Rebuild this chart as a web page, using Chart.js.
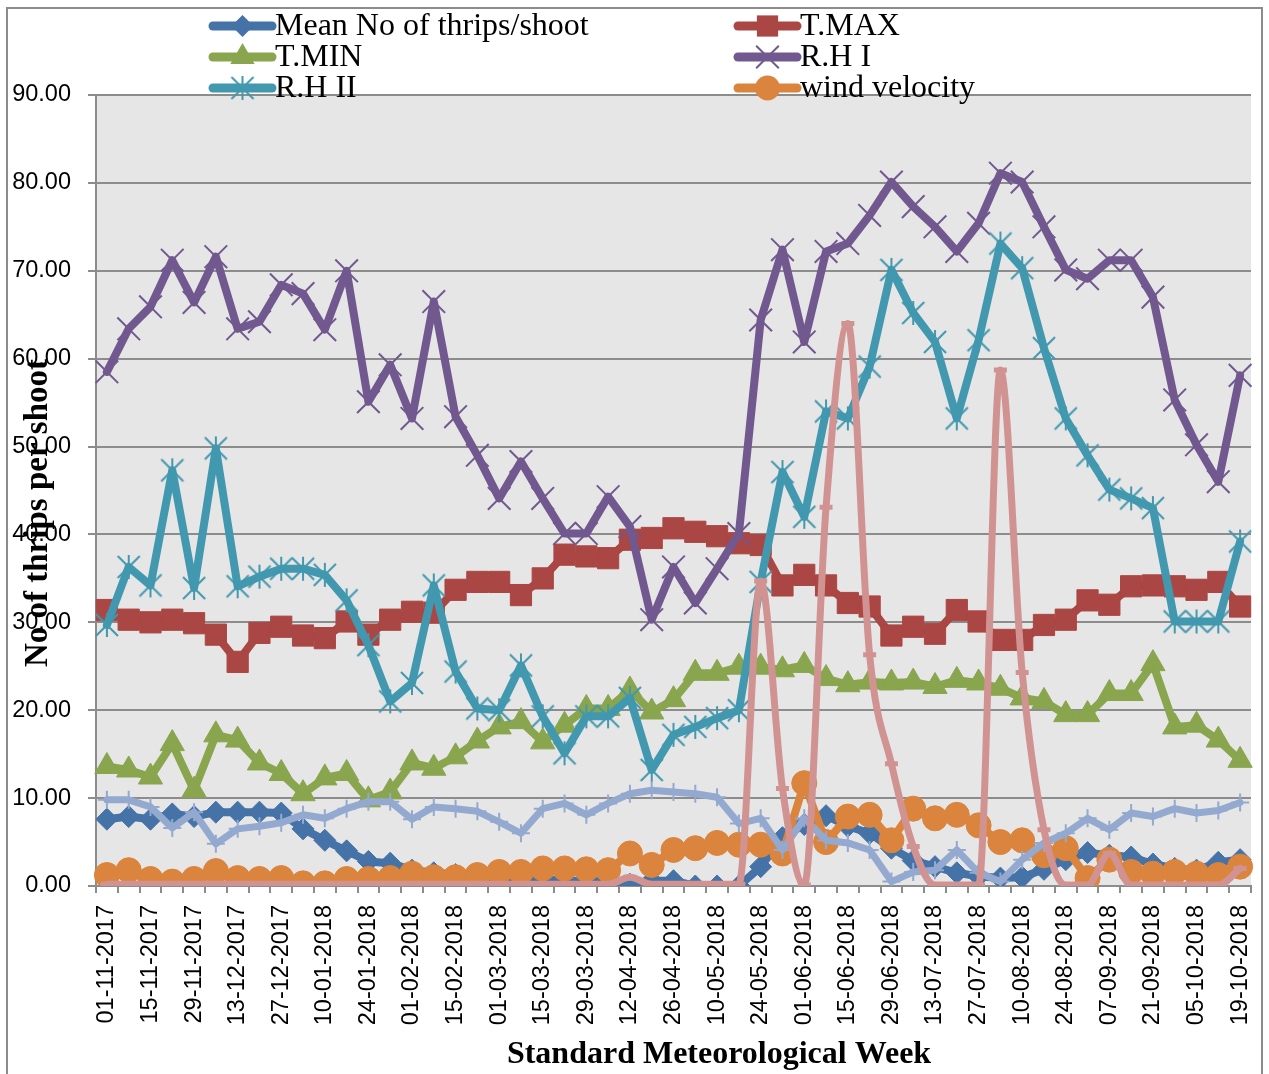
<!DOCTYPE html>
<html>
<head>
<meta charset="utf-8">
<script src="https://cdn.jsdelivr.net/npm/chart.js@4.4.1/dist/chart.umd.min.js"></script>
<style>
  html, body { margin: 0; padding: 0; background: #ffffff; }
  canvas { display: block; }
</style>
</head>
<body>
<canvas id="chart" width="1269" height="1074"></canvas>
<script>
// Standard meteorological weeks (every other one is labelled on the axis)
const weeks = [
  '01-11-2017','08-11-2017','15-11-2017','22-11-2017','29-11-2017','06-12-2017','13-12-2017','20-12-2017',
  '27-12-2017','03-01-2018','10-01-2018','17-01-2018','24-01-2018','28-01-2018','01-02-2018','08-02-2018',
  '15-02-2018','22-02-2018','01-03-2018','08-03-2018','15-03-2018','22-03-2018','29-03-2018','05-04-2018',
  '12-04-2018','19-04-2018','26-04-2018','03-05-2018','10-05-2018','17-05-2018','24-05-2018','28-05-2018',
  '01-06-2018','08-06-2018','15-06-2018','22-06-2018','29-06-2018','06-07-2018','13-07-2018','20-07-2018',
  '27-07-2018','03-08-2018','10-08-2018','17-08-2018','24-08-2018','31-08-2018','07-09-2018','14-09-2018',
  '21-09-2018','28-09-2018','05-10-2018','12-10-2018','19-10-2018'
];

const meanThrips = [
  7.6, 7.9, 7.6, 8.2, 7.9, 8.4, 8.4, 8.4, 8.3, 6.5, 5.2, 4.0, 2.8, 2.6, 1.8, 1.5,
  1.3, 1.0, 1.0, 0.8, 0.8, 0.6, 0.6, 0.5, 0.2, 0.6, 0.6, 0.0, 0.0, 0.0, 2.2, 5.5,
  7.0, 8.0, 6.8, 6.0, 4.3, 2.9, 2.2, 1.5, 1.1, 0.9, 1.0, 1.9, 3.0, 3.8, 3.5, 3.3,
  2.5, 2.0, 1.8, 2.7, 3.0
];

const tMax = [
  31.4, 30.3, 30.0, 30.3, 29.9, 28.6, 25.5, 28.8, 29.5, 28.5, 28.2, 30.1, 28.6, 30.3, 31.2, 31.1,
  33.7, 34.6, 34.6, 33.1, 35.0, 37.7, 37.5, 37.3, 39.4, 39.6, 40.7, 40.3, 39.8, 39.0, 38.8, 34.2,
  35.4, 34.2, 32.2, 31.8, 28.5, 29.5, 28.7, 31.4, 30.1, 28.0, 28.0, 29.7, 30.3, 32.5, 32.0, 34.1,
  34.2, 34.1, 33.7, 34.6, 31.8
];

const tMin = [
  13.6, 13.2, 12.4, 16.2, 10.9, 17.2, 16.6, 14.0, 12.8, 10.5, 12.3, 12.8, 9.8, 10.7, 14.0, 13.4,
  14.7, 16.5, 18.1, 18.7, 16.4, 18.3, 20.2, 20.2, 22.3, 19.8, 21.2, 24.2, 24.2, 24.9, 24.9, 24.6,
  25.1, 23.6, 22.9, 23.2, 23.1, 23.2, 22.7, 23.4, 23.1, 22.5, 21.4, 21.0, 19.5, 19.5, 21.9, 21.9,
  25.3, 18.1, 18.3, 16.6, 14.3
];

const rh1 = [
  58.5, 63.4, 65.9, 71.2, 66.4, 71.6, 63.4, 64.2, 68.4, 67.4, 63.3, 70.0, 55.1, 59.3, 53.2, 66.5,
  53.4, 49.0, 44.1, 48.3, 44.1, 40.1, 40.1, 44.3, 40.9, 30.3, 36.3, 32.2, 36.1, 40.1, 64.4, 72.4,
  61.9, 72.2, 73.1, 76.3, 80.1, 77.3, 75.0, 72.2, 75.4, 81.1, 80.1, 75.0, 70.1, 69.1, 71.2, 71.2,
  67.0, 55.3, 50.2, 46.0, 58.1
];

const rh2 = [
  29.7, 36.3, 34.2, 47.3, 33.9, 49.8, 34.1, 35.2, 36.1, 36.1, 35.4, 32.5, 27.4, 21.0, 23.1, 34.2,
  24.4, 20.2, 20.0, 25.1, 19.3, 15.1, 19.3, 19.3, 21.4, 13.2, 17.2, 18.1, 19.1, 20.0, 34.6, 47.1,
  42.0, 54.0, 53.2, 59.1, 70.1, 65.2, 61.9, 53.2, 62.1, 73.1, 70.3, 61.2, 53.2, 49.0, 45.1, 44.1,
  43.0, 30.1, 30.1, 30.1, 39.2
];

const windVelocity = [
  1.25, 1.8, 0.8, 0.5, 0.8, 1.7, 0.9, 0.8, 0.9, 0.3, 0.3, 0.8, 0.8, 0.9, 1.4, 1.0,
  1.0, 1.25, 1.6, 1.6, 2.0, 2.0, 1.9, 1.8, 3.7, 2.4, 4.1, 4.3, 4.9, 4.7, 4.7, 3.7,
  11.7, 5.0, 7.9, 8.1, 5.2, 8.8, 7.7, 8.1, 6.9, 5.0, 5.2, 3.5, 4.3, 0.9, 3.0, 1.6,
  1.4, 1.6, 1.4, 1.25, 2.2
];

const series7 = [
  9.8, 9.8, 9.0, 6.6, 8.4, 4.8, 6.5, 6.8, 7.2, 8.1, 7.7, 8.8, 9.6, 9.6, 7.6, 9.0,
  8.8, 8.5, 7.3, 6.0, 8.8, 9.4, 8.1, 9.4, 10.5, 10.9, 10.7, 10.5, 10.1, 7.1, 7.7, 4.1,
  7.7, 5.2, 4.9, 4.1, 0.5, 1.6, 1.8, 4.1, 1.5, 0.5, 3.0, 4.9, 6.0, 7.7, 6.4, 8.3,
  7.9, 8.8, 8.3, 8.6, 9.5
];

const series8 = [
  0.2, 0.2, 0.2, 0.2, 0.2, 0.2, 0.2, 0.2, 0.2, 0.2, 0.2, 0.2, 0.2, 0.2, 0.2, 0.2,
  0.2, 0.2, 0.2, 0.2, 0.2, 0.2, 0.2, 0.2, 1.0, 0.2, 0.2, 0.2, 0.2, 0.2, 34.7, 11.1,
  0.1, 43.1, 64.0, 26.3, 13.9, 4.5, 0.1, 0.1, 0.1, 58.7, 24.3, 6.4, 0.1, 0.1, 3.7, 0.1,
  0.1, 0.1, 0.1, 0.1, 2.0
];

const yMin = 0, yMax = 90, yStep = 10;
const xTitle = 'Standard Meteorological Week';
const yTitle = 'No of thrips per shoot';

const COLORS = {
  blue: '#4572A7', red: '#AA4643', green: '#89A54E', purple: '#71588F',
  teal: '#4198AF', orange: '#DB843D', lightBlue: '#93A9CF', pink: '#D19392'
};
const SANS = '"Liberation Sans", Arial, sans-serif';
const SERIF = '"Liberation Serif", "Times New Roman", serif';
const GRID = '#8c8c8c';

// asterisk marker: diagonal cross with a vertical bar
function makeStar(color, half, lw) {
  const size = Math.ceil(half * 2 + lw * 2);
  const c = document.createElement('canvas');
  c.width = size; c.height = size;
  const g = c.getContext('2d');
  const m = size / 2, d = half * 0.92;
  g.strokeStyle = color; g.lineWidth = lw;
  g.beginPath();
  g.moveTo(m - d, m - d); g.lineTo(m + d, m + d);
  g.moveTo(m + d, m - d); g.lineTo(m - d, m + d);
  g.moveTo(m, m - half); g.lineTo(m, m + half);
  g.stroke();
  return c;
}
const starMarker = makeStar(COLORS.teal, 12, 2);

function lineSeries(label, data, color, style, radius, extra) {
  return Object.assign({
    label: label,
    data: data,
    borderColor: color,
    backgroundColor: color,
    pointBackgroundColor: color,
    pointBorderColor: color,
    borderWidth: 8,
    borderJoinStyle: 'round',
    borderCapStyle: 'round',
    pointStyle: style,
    pointRadius: radius,
    pointBorderWidth: 1,
    tension: 0,
    fill: false
  }, extra || {});
}

const datasets = [
  lineSeries('Mean No of thrips/shoot', meanThrips, COLORS.blue, 'rectRot', 11, { order: 7 }),
  lineSeries('T.MAX', tMax, COLORS.red, 'rect', 15, { order: 6 }),
  lineSeries('T.MIN', tMin, COLORS.green, 'triangle', 14, { order: 5 }),
  lineSeries('R.H I', rh1, COLORS.purple, 'crossRot', 16, { order: 4, pointBorderWidth: 2 }),
  lineSeries('R.H II', rh2, COLORS.teal, starMarker, 12, { order: 3 }),
  lineSeries('wind velocity', windVelocity, COLORS.orange, 'circle', 12.5, { order: 2 }),
  lineSeries('', series7, COLORS.lightBlue, 'cross', 9, { order: 1, borderWidth: 7, pointBorderWidth: 2 }),
  lineSeries('', series8, COLORS.pink, 'line', 6.5, { order: 0, borderWidth: 7, pointBorderWidth: 5, cubicInterpolationMode: 'monotone' })
];

// legend layout: two columns, three rows
const legendItems = [
  { ds: 0, col: 0, row: 0 }, { ds: 1, col: 1, row: 0 },
  { ds: 2, col: 0, row: 1 }, { ds: 3, col: 1, row: 1 },
  { ds: 4, col: 0, row: 2 }, { ds: 5, col: 1, row: 2 }
];
const legendCols = [{ x0: 213, x1: 272, text: 275 }, { x0: 738, x1: 797, text: 800 }];
const legendRows = [26, 57, 88];

function drawMarker(ctx, style, x, y, r, color, lw) {
  ctx.save();
  ctx.fillStyle = color; ctx.strokeStyle = color; ctx.lineWidth = lw;
  ctx.beginPath();
  if (style === 'rectRot') {
    ctx.moveTo(x - r, y); ctx.lineTo(x, y - r); ctx.lineTo(x + r, y); ctx.lineTo(x, y + r);
    ctx.closePath(); ctx.fill();
  } else if (style === 'rect') {
    const s = r * Math.SQRT1_2;
    ctx.rect(x - s, y - s, 2 * s, 2 * s); ctx.fill();
  } else if (style === 'triangle') {
    ctx.moveTo(x, y - r); ctx.lineTo(x + r * 0.866, y + r * 0.5); ctx.lineTo(x - r * 0.866, y + r * 0.5);
    ctx.closePath(); ctx.fill();
  } else if (style === 'crossRot') {
    const d = r * Math.SQRT1_2;
    ctx.moveTo(x - d, y - d); ctx.lineTo(x + d, y + d);
    ctx.moveTo(x + d, y - d); ctx.lineTo(x - d, y + d);
    ctx.stroke();
  } else if (style === 'circle') {
    ctx.arc(x, y, r, 0, Math.PI * 2); ctx.fill();
  } else if (style && style.width) {
    ctx.drawImage(style, x - style.width / 2, y - style.height / 2);
  }
  ctx.restore();
}

const chartDecor = {
  id: 'chartDecor',
  beforeDraw(chart) {
    const { ctx, chartArea: a } = chart;
    ctx.save();
    ctx.fillStyle = '#E6E6E6';
    ctx.fillRect(a.left, a.top, a.right - a.left, a.bottom - a.top);
    ctx.restore();
  },
  afterDraw(chart) {
    const ctx = chart.ctx;
    ctx.save();
    // outer frame
    ctx.strokeStyle = GRID; ctx.lineWidth = 2;
    ctx.strokeRect(7, 8, 1255, 1080);

    // axis titles
    ctx.fillStyle = '#000';
    ctx.font = 'bold 32px ' + SERIF;
    ctx.textAlign = 'center'; ctx.textBaseline = 'middle';
    ctx.fillText(xTitle, 719, 1055);
    ctx.save();
    ctx.translate(38, 513);
    ctx.rotate(-Math.PI / 2);
    ctx.font = 'bold 33px ' + SERIF;
    ctx.fillText(yTitle, 0, 0);
    ctx.restore();

    // legend
    ctx.font = '32px ' + SERIF;
    ctx.textAlign = 'left'; ctx.textBaseline = 'middle';
    legendItems.forEach(it => {
      const ds = chart.data.datasets[it.ds];
      const c = legendCols[it.col], y = legendRows[it.row];
      ctx.save();
      ctx.strokeStyle = ds.borderColor; ctx.lineWidth = 9; ctx.lineCap = 'round';
      ctx.beginPath(); ctx.moveTo(c.x0, y); ctx.lineTo(c.x1, y); ctx.stroke();
      ctx.restore();
      drawMarker(ctx, ds.pointStyle, (c.x0 + c.x1) / 2, y, ds.pointRadius, ds.borderColor, ds.pointBorderWidth);
      ctx.fillStyle = '#000';
      ctx.fillText(ds.label, c.text, y + 1);
    });
    ctx.restore();
  }
};

new Chart(document.getElementById('chart'), {
  type: 'line',
  data: { labels: weeks, datasets: datasets },
  options: {
    responsive: false,
    animation: false,
    events: [],
    layout: { padding: { top: 95, right: 18, left: 0, bottom: 0 } },
    plugins: { legend: { display: false }, tooltip: { enabled: false }, title: { display: false } },
    scales: {
      x: {
        type: 'category',
        offset: true,
        afterFit(scale) { scale.height = 188; scale.paddingLeft = 0; scale.paddingRight = 0; },
        grid: { drawOnChartArea: false, drawTicks: true, tickLength: 7, offset: true, color: GRID, lineWidth: 2 },
        border: { display: true, color: GRID, width: 2 },
        ticks: {
          autoSkip: false,
          maxRotation: 90,
          minRotation: 90,
          padding: 12,
          color: '#000',
          font: { family: SANS, size: 23.5 },
          callback(value, index) { return index % 2 === 0 ? weeks[index] : ''; }
        }
      },
      y: {
        min: yMin,
        max: yMax,
        afterFit(scale) { scale.width = 96; scale.paddingTop = 0; scale.paddingBottom = 0; },
        grid: { color: GRID, lineWidth: 2, drawTicks: true, tickLength: 8 },
        border: { display: true, color: GRID, width: 2 },
        ticks: {
          stepSize: yStep,
          padding: 17,
          color: '#000',
          font: { family: SANS, size: 23.5 },
          callback(value) { return Number(value).toFixed(2); }
        }
      }
    }
  },
  plugins: [chartDecor]
});
</script>
</body>
</html>
